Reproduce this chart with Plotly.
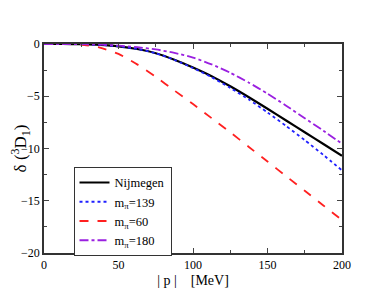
import plotly.graph_objects as go

p = [0, 12.5, 25, 37.5, 50, 62.5, 75, 87.5, 100, 112.5, 125, 137.5, 150, 162.5, 175, 187.5, 200]
nijmegen = [0, 0, -0.02, -0.08, -0.22, -0.48, -0.88, -1.5, -2.25, -3.08, -4.05, -5.1, -6.2, -7.32, -8.45, -9.57, -10.7]
m139 = [0, 0, -0.02, -0.08, -0.22, -0.48, -0.88, -1.52, -2.3, -3.18, -4.2, -5.32, -6.55, -7.85, -9.2, -10.62, -12.1]
m60 = [0, 0, -0.05, -0.35, -0.95, -1.95, -3.15, -4.45, -5.75, -7.1, -8.45, -9.85, -11.25, -12.65, -14.05, -15.45, -16.85]
m180 = [0, 0, -0.01, -0.05, -0.15, -0.3, -0.52, -0.85, -1.3, -1.95, -2.75, -3.7, -4.75, -5.9, -7.1, -8.3, -9.55]

names = ["Nijmegen", "m<sub>π</sub>=139", "m<sub>π</sub>=60", "m<sub>π</sub>=180"]
series = [nijmegen, m139, m60, m180]
colors = ["black", "#2020ff", "#ff2020", "#9a20e0"]
dashes = ["solid", "dot", "dash", "dashdot"]
widths = [2.2, 1.8, 1.8, 1.8]

fig = go.Figure()
for n, s, c, d, w in zip(names, series, colors, dashes, widths):
    fig.add_trace(go.Scatter(x=p, y=s, mode="lines", name=n,
                             line=dict(color=c, dash=d, width=w, shape="spline", smoothing=0.6)))

font = dict(family="Liberation Serif", size=12, color="black")
fig.update_layout(
    width=377, height=290,
    margin=dict(l=36, r=43, t=36, b=45),
    paper_bgcolor="white", plot_bgcolor="white",
    font=font,
    showlegend=True,
    legend=dict(x=0.099, y=0.412, xanchor="left", yanchor="top",
                bordercolor="#333", borderwidth=1, bgcolor="white",
                font=dict(family="Liberation Serif", size=12.5),
                tracegroupgap=0, itemwidth=30),
)
fig.update_xaxes(range=[0, 200], tickvals=[0, 50, 100, 150, 200],
                 ticks="inside", ticklen=5, mirror="allticks", automargin=False,
                 showline=True, linecolor="#333", linewidth=1.5,
                 showgrid=False, zeroline=False,
                 minor=dict(ticks="inside", ticklen=3, dtick=25, showgrid=False),
                 title=dict(text="| p |    [MeV]", font=dict(size=14), standoff=4))
fig.update_yaxes(range=[-20, 0], tickvals=[0, -5, -10, -15, -20],
                 ticks="inside", ticklen=5, mirror="allticks", automargin=False,
                 showline=True, linecolor="#333", linewidth=1.5,
                 showgrid=False, zeroline=False,
                 minor=dict(ticks="inside", ticklen=3, dtick=2.5, showgrid=False),
                 title=dict(text="δ (<sup>3</sup>D<sub>1</sub>)", font=dict(size=17), standoff=2))

fig.write_html("out.html")
